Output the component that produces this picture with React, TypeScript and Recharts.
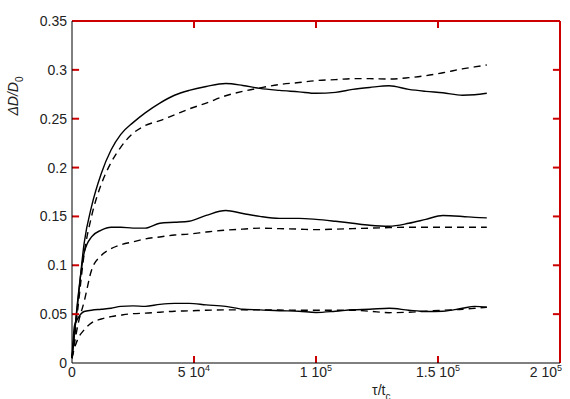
import { LineChart, Line, XAxis, YAxis } from 'recharts';

const TIMES = [
  0, 1000, 2500, 5000, 8000, 12000, 16000, 20000, 25000, 30000, 36000, 42000, 48000, 55000, 63000,
  70000, 77000, 85000, 93000, 100000, 108000, 115000, 122000, 130000, 138000, 145000, 152000,
  160000, 165000, 170000,
];

// upper pair
const TOP_SOLID = [
  0.005, 0.03, 0.065, 0.123, 0.16, 0.194, 0.218, 0.234, 0.246, 0.256, 0.266, 0.274, 0.279, 0.283,
  0.286, 0.284, 0.281, 0.279, 0.2775, 0.276, 0.277, 0.28, 0.282, 0.2837, 0.28, 0.278, 0.2765, 0.274,
  0.2745, 0.276,
];
const TOP_DASHED = [
  0.005, 0.025, 0.058, 0.112, 0.15, 0.183, 0.205, 0.221, 0.235, 0.243, 0.248, 0.254, 0.26, 0.266,
  0.2735, 0.278, 0.2815, 0.285, 0.287, 0.289, 0.29, 0.291, 0.291, 0.2906, 0.292, 0.294, 0.297, 0.301,
  0.303, 0.305,
];

// middle pair
const MID_SOLID = [
  0.005, 0.03, 0.068, 0.113, 0.129, 0.136, 0.139, 0.139, 0.138, 0.138, 0.143, 0.144, 0.145, 0.151,
  0.156, 0.153, 0.15, 0.148, 0.148, 0.147, 0.145, 0.143, 0.141, 0.14, 0.143, 0.147, 0.151, 0.15,
  0.149, 0.1485,
];
const MID_DASHED = [
  0.005, 0.02, 0.04, 0.063, 0.095, 0.11, 0.117, 0.121, 0.124, 0.127, 0.129, 0.131, 0.132, 0.134,
  0.136, 0.137, 0.138, 0.1375, 0.137, 0.1365, 0.137, 0.1375, 0.138, 0.1385, 0.139, 0.139, 0.139,
  0.139, 0.139, 0.139,
];

// lower pair
const LOW_SOLID = [
  0.005, 0.038, 0.046, 0.0527, 0.054, 0.055, 0.056, 0.058, 0.0585, 0.058, 0.06, 0.061, 0.061, 0.0595,
  0.058, 0.055, 0.0544, 0.0535, 0.053, 0.0517, 0.053, 0.0545, 0.055, 0.056, 0.054, 0.0527, 0.053,
  0.056, 0.058, 0.057,
];
const LOW_DASHED = [
  0.005, 0.015, 0.025, 0.034, 0.041, 0.045, 0.0475, 0.049, 0.0505, 0.051, 0.052, 0.053, 0.0534,
  0.054, 0.0544, 0.0544, 0.0544, 0.0542, 0.054, 0.054, 0.054, 0.054, 0.053, 0.0515, 0.052, 0.053,
  0.054, 0.055, 0.056, 0.057,
];

const X_TICKS = [0, 50000, 100000, 150000, 200000];
const X_TICK_BASE = ['0', '5 10', '1 10', '1.5 10', '2 10'];
const X_TICK_EXP = ['', '4', '5', '5', '5'];
const Y_TICKS = [0, 0.05, 0.1, 0.15, 0.2, 0.25, 0.3, 0.35];
const Y_TICK_LABELS = ['0', '0.05', '0.1', '0.15', '0.2', '0.25', '0.3', '0.35'];

const X_MAX = 200000;
const Y_MAX = 0.35;
// inward tick length (~7px) in data units
const X_TICK_LEN = 2900;
const Y_TICK_LEN = 0.0072;

const FONT = '"Liberation Sans", Arial, sans-serif';

const data = TIMES.map((t, i) => ({
  t,
  s1: TOP_SOLID[i],
  d1: TOP_DASHED[i],
  s2: MID_SOLID[i],
  d2: MID_DASHED[i],
  s3: LOW_SOLID[i],
  d3: LOW_DASHED[i],
}));

// box frame (top + right edges) and inward tick marks, as two-point segments
const frameSegments = [
  [{ t: 0, v: Y_MAX }, { t: X_MAX, v: Y_MAX }],
  [{ t: X_MAX, v: 0 }, { t: X_MAX, v: Y_MAX }],
  ...X_TICKS.slice(1, -1).flatMap((x) => [
    [{ t: x, v: 0 }, { t: x, v: Y_TICK_LEN }],
    [{ t: x, v: Y_MAX }, { t: x, v: Y_MAX - Y_TICK_LEN }],
  ]),
  ...Y_TICKS.slice(1, -1).flatMap((y) => [
    [{ t: 0, v: y }, { t: X_TICK_LEN, v: y }],
    [{ t: X_MAX, v: y }, { t: X_MAX - X_TICK_LEN, v: y }],
  ]),
];

const BottomTick = (props: any) => {
  const { x, y, payload } = props;
  const i = X_TICKS.indexOf(payload.value);
  return (
    <text x={x} y={y + 6} textAnchor="middle" fontFamily={FONT} fontSize={14} fill="#222">
      {X_TICK_BASE[i]}
      {X_TICK_EXP[i] ? (
        <tspan dy={-6} fontSize={9}>
          {X_TICK_EXP[i]}
        </tspan>
      ) : null}
    </text>
  );
};

const LeftTick = (props: any) => {
  const { x, y, payload } = props;
  const i = Y_TICKS.indexOf(payload.value);
  return (
    <text x={x + 3} y={y} dy="0.36em" textAnchor="end" fontFamily={FONT} fontSize={14} fill="#222">
      {Y_TICK_LABELS[i]}
    </text>
  );
};

const XTitle = (props: any) => {
  const { viewBox } = props;
  return (
    <text x={viewBox.x + viewBox.width * 0.615} y={viewBox.y + 32} fontFamily={FONT} fontSize={14} fill="#222">
      τ/t
      <tspan dy={5} fontSize={10}>
        c
      </tspan>
    </text>
  );
};

const YTitle = (props: any) => {
  const { viewBox } = props;
  const cx = 18;
  const cy = viewBox.y + 75;
  return (
    <text
      transform={`rotate(-90 ${cx} ${cy})`}
      x={cx}
      y={cy}
      textAnchor="middle"
      fontFamily={FONT}
      fontStyle="italic"
      fontSize={14}
      fill="#222"
    >
      ΔD/D
      <tspan dy={5} fontSize={10} fontStyle="normal">
        0
      </tspan>
    </text>
  );
};

export default function App() {
  const solid = { stroke: '#000', strokeWidth: 1.4, dot: false, isAnimationActive: false, type: 'monotone' as const };
  const dashed = { ...solid, strokeDasharray: '7 5' };
  return (
    <div style={{ position: 'fixed', left: 0, top: 0, width: 570, height: 399, background: '#fff' }}>
      <LineChart width={570} height={399} data={data} margin={{ top: 21, right: 10, bottom: 0, left: 0 }}>
        <XAxis
          dataKey="t"
          type="number"
          domain={[0, X_MAX]}
          ticks={X_TICKS}
          height={36}
          tickLine={{ stroke: 'none' }}
          tick={<BottomTick />}
          axisLine={{ stroke: '#000' }}
          label={{ content: <XTitle /> }}
        />
        <YAxis
          type="number"
          domain={[0, Y_MAX]}
          ticks={Y_TICKS}
          width={72}
          tickLine={{ stroke: 'none' }}
          tick={<LeftTick />}
          axisLine={{ stroke: '#000' }}
          label={{ content: <YTitle /> }}
        />
        <Line dataKey="s1" {...solid} />
        <Line dataKey="d1" {...dashed} />
        <Line dataKey="s2" {...solid} />
        <Line dataKey="d2" {...dashed} />
        <Line dataKey="s3" {...solid} />
        <Line dataKey="d3" {...dashed} />
        {frameSegments.map((seg, k) => (
          <Line
            key={`frame${k}`}
            data={seg}
            dataKey="v"
            type="linear"
            stroke="#cc0000"
            strokeWidth={2}
            dot={false}
            activeDot={false}
            legendType="none"
            isAnimationActive={false}
          />
        ))}
      </LineChart>
    </div>
  );
}
